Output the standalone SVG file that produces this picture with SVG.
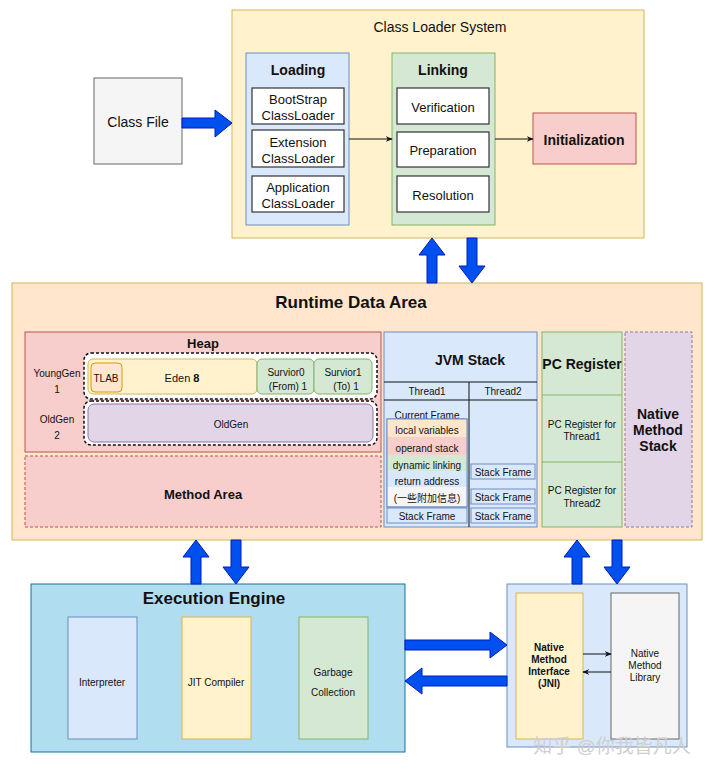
<svg xmlns="http://www.w3.org/2000/svg" width="720" height="780" viewBox="0 0 720 780">
<defs>
<style>
text{font-family:"Liberation Sans","Noto Sans CJK SC",sans-serif;fill:#111;text-anchor:middle;dominant-baseline:central}
.b{font-weight:bold}
.blk{fill:#0050ef;stroke:#001dbc;stroke-width:1}
.ln{stroke:#111;stroke-width:1;fill:none}
.wb{fill:#fff;stroke:#333;stroke-width:1.2}
.dash{stroke-dasharray:3 2}
</style>
<marker id="ah" viewBox="0 0 10 10" refX="9" refY="5" markerWidth="7" markerHeight="7" orient="auto"><path d="M0,1 L10,5 L0,9 L3,5 Z" fill="#111"/></marker>
</defs>
<rect width="720" height="780" fill="#fff"/>

<g id="class-file">
<rect x="94" y="78" width="88" height="86" fill="#f5f5f5" stroke="#666"/>
<text x="138" y="122" font-size="14">Class File</text>
</g>

<g id="class-loader-system">
<rect x="232" y="10" width="412" height="228" fill="#fff2cc" stroke="#d6b656"/>
<text x="440" y="27" font-size="14">Class Loader System</text>
</g>
<g id="loading">
<rect x="246" y="53" width="103" height="172" fill="#dae8fc" stroke="#6c8ebf"/>
<text x="298" y="70" font-size="14" class="b">Loading</text>
<rect class="wb" x="252" y="88" width="92" height="36"/>
<text x="298" y="99" font-size="13">BootStrap</text><text x="298" y="115" font-size="13">ClassLoader</text>
<rect class="wb" x="252" y="130" width="92" height="37"/>
<text x="298" y="142" font-size="13">Extension</text><text x="298" y="158" font-size="13">ClassLoader</text>
<rect class="wb" x="252" y="176" width="92" height="36"/>
<text x="298" y="187" font-size="13">Application</text><text x="298" y="203" font-size="13">ClassLoader</text>
</g>
<g id="linking">
<rect x="392" y="53" width="103" height="172" fill="#d5e8d4" stroke="#82b366"/>
<text x="443" y="70" font-size="14" class="b">Linking</text>
<rect class="wb" x="397" y="88" width="92" height="36"/>
<text x="443" y="107" font-size="13">Verification</text>
<rect class="wb" x="397" y="132" width="92" height="35"/>
<text x="443" y="150" font-size="13">Preparation</text>
<rect class="wb" x="397" y="176" width="92" height="36"/>
<text x="443" y="195" font-size="13">Resolution</text>
</g>
<g id="initialization">
<rect x="533" y="113" width="103" height="51" fill="#f8cecc" stroke="#b85450"/>
<text x="584" y="140" font-size="14" class="b">Initialization</text>
</g>

<g id="runtime-data-area">
<rect x="12" y="283" width="690" height="257" fill="#ffe6cc" stroke="#d6b656"/>
<text x="351" y="302" font-size="17" class="b">Runtime Data Area</text>
</g>
<g id="heap">
<rect x="25" y="332" width="356" height="120" fill="#f8cecc" stroke="#b85450"/>
<text x="203" y="343" font-size="13" class="b">Heap</text>
<text x="57" y="373" font-size="10">YoungGen</text><text x="57" y="389" font-size="10">1</text>
<text x="57" y="419" font-size="10">OldGen</text><text x="57" y="435" font-size="10">2</text>
<rect x="84" y="353" width="293" height="46" rx="7" fill="#fff" stroke="#111" stroke-width="1.5" class="dash"/>
<rect x="88" y="359" width="169" height="35" rx="5" fill="#fff2cc" stroke="#d6b656"/>
<rect x="91" y="363" width="31" height="29" rx="4" fill="#ffe6cc" stroke="#d79b00"/>
<text x="106" y="378" font-size="10">TLAB</text>
<text x="182" y="378" font-size="11">Eden  <tspan class="b">8</tspan></text>
<rect x="257" y="359" width="57" height="35" rx="5" fill="#d5e8d4" stroke="#82b366"/>
<text x="286" y="372" font-size="10">Survior0</text><text x="288" y="386" font-size="10">(From) 1</text>
<rect x="314" y="359" width="58" height="35" rx="5" fill="#d5e8d4" stroke="#82b366"/>
<text x="343" y="372" font-size="10">Survior1</text><text x="346" y="386" font-size="10">(To)  1</text>
<rect x="84" y="401" width="293" height="44" rx="7" fill="#fff" stroke="#111" stroke-width="1.5" class="dash"/>
<rect x="88" y="404" width="285" height="38" rx="6" fill="#e1d5e7" stroke="#9673a6"/>
<text x="231" y="424" font-size="10">OldGen</text>
</g>
<g id="method-area">
<rect x="25" y="456" width="356" height="71" fill="#f8cecc" stroke="#b85450" class="dash"/>
<text x="203" y="494" font-size="13" class="b">Method Area</text>
</g>
<g id="jvm-stack">
<rect x="384" y="332" width="153" height="195" fill="#dae8fc" stroke="#6c8ebf"/>
<text x="470" y="360" font-size="14" class="b">JVM Stack</text>
<path class="ln" d="M384,382 H537 M384,400 H537 M469,382 V527" stroke="#333"/>
<text x="427" y="391" font-size="10">Thread1</text>
<text x="503" y="391" font-size="10">Thread2</text>
<text x="427" y="415" font-size="10">Current Frame</text>
<rect x="387" y="419" width="80" height="88" fill="#fff" stroke="#6c8ebf"/>
<rect x="387" y="419" width="80" height="18" fill="#ffe6cc"/>
<rect x="387" y="437" width="80" height="18" fill="#f8cecc"/>
<rect x="387" y="455" width="80" height="16" fill="#d5e8d4"/>
<rect x="387" y="471" width="80" height="16" fill="#dae8fc"/>
<rect x="387" y="487" width="80" height="19" fill="#f5f5f5"/>
<rect x="387" y="419" width="80" height="88" fill="none" stroke="#6c8ebf"/>
<text x="427" y="430" font-size="10">local variables</text>
<text x="427" y="448" font-size="10">operand stack</text>
<text x="427" y="465" font-size="10">dynamic linking</text>
<text x="427" y="481" font-size="10">return address</text>
<text x="427" y="498" font-size="10" fill="#444">(一些附加信息)</text>
<rect x="387" y="508" width="80" height="15" fill="#dae8fc" stroke="#6c8ebf"/>
<text x="427" y="516" font-size="10">Stack Frame</text>
<rect x="471" y="464" width="64" height="15" fill="#dae8fc" stroke="#6c8ebf"/>
<text x="503" y="472" font-size="10">Stack Frame</text>
<rect x="471" y="489" width="64" height="15" fill="#dae8fc" stroke="#6c8ebf"/>
<text x="503" y="497" font-size="10">Stack Frame</text>
<rect x="471" y="508" width="64" height="15" fill="#dae8fc" stroke="#6c8ebf"/>
<text x="503" y="516" font-size="10">Stack Frame</text>
</g>
<g id="pc-register">
<rect x="542" y="332" width="80" height="195" fill="#d5e8d4" stroke="#82b366"/>
<path d="M542,395 H622 M542,462 H622" stroke="#82b366" fill="none"/>
<text x="582" y="364" font-size="14" class="b">PC Register</text>
<text x="582" y="424" font-size="10">PC Register for</text><text x="582" y="436" font-size="10">Thread1</text>
<text x="582" y="490" font-size="10">PC Register for</text><text x="582" y="503" font-size="10">Thread2</text>
</g>
<g id="native-method-stack">
<rect x="625" y="332" width="67" height="195" fill="#e1d5e7" stroke="#9673a6" class="dash"/>
<text x="658" y="414" font-size="14" class="b">Native</text>
<text x="658" y="430" font-size="14" class="b">Method</text>
<text x="658" y="446" font-size="14" class="b">Stack</text>
</g>

<g id="execution-engine">
<rect x="31" y="584" width="374" height="168" fill="#b1ddf0" stroke="#10739e"/>
<text x="214" y="598" font-size="17" class="b">Execution Engine</text>
<rect x="68" y="617" width="69" height="122" fill="#dae8fc" stroke="#6c8ebf"/>
<text x="102" y="682" font-size="10">Interpreter</text>
<rect x="182" y="617" width="69" height="122" fill="#fff2cc" stroke="#d6b656"/>
<text x="216" y="682" font-size="10">JIT Compiler</text>
<rect x="299" y="617" width="69" height="122" fill="#d5e8d4" stroke="#82b366"/>
<text x="333" y="672" font-size="10">Garbage</text><text x="333" y="692" font-size="10">Collection</text>
</g>

<g id="native-interface-group">
<rect x="507" y="584" width="180" height="163" fill="#dae8fc" stroke="#6c8ebf"/>
</g>
<g id="jni">
<rect x="516" y="593" width="67" height="146" fill="#fff2cc" stroke="#d6b656"/>
<text x="549" y="647" font-size="10" class="b">Native</text>
<text x="549" y="659" font-size="10" class="b">Method</text>
<text x="549" y="671" font-size="10" class="b">Interface</text>
<text x="549" y="683" font-size="10" class="b">(JNI)</text>
</g>
<g id="native-method-library">
<rect x="611" y="593" width="68" height="146" fill="#f5f5f5" stroke="#666"/>
<text x="645" y="653" font-size="10">Native</text>
<text x="645" y="665" font-size="10">Method</text>
<text x="645" y="677" font-size="10">Library</text>
</g>

<g id="connectors">
<line class="ln" x1="349" y1="139" x2="392" y2="139" marker-end="url(#ah)"/>
<line class="ln" x1="495" y1="139" x2="533" y2="139" marker-end="url(#ah)"/>
<line class="ln" x1="583" y1="654" x2="611" y2="654" marker-end="url(#ah)"/>
<line class="ln" x1="611" y1="672" x2="583" y2="672" marker-end="url(#ah)"/>
<polygon class="blk" points="182,118 215,118 215,110 232,123 215,137 215,128 182,128"/>
<polygon class="blk" points="427,283 427,255 419,255 432,238 445,255 437,255 437,283"/>
<polygon class="blk" points="467,238 467,266 459,266 472,283 485,266 477,266 477,238"/>
<polygon class="blk" points="191,584 191,557 183,557 196,540 209,557 201,557 201,584"/>
<polygon class="blk" points="231,540 231,567 223,567 236,584 249,567 241,567 241,540"/>
<polygon class="blk" points="572,584 572,557 564,557 577,540 590,557 582,557 582,584"/>
<polygon class="blk" points="612,540 612,567 604,567 617,584 630,567 622,567 622,540"/>
<polygon class="blk" points="405,640 490,640 490,632 507,645 490,658 490,650 405,650"/>
<polygon class="blk" points="507,676 422,676 422,668 405,681 422,694 422,686 507,686"/>
</g>

<text x="612" y="746" font-size="19" style="fill:#cfcfcf">知乎 @你我皆凡人</text>
</svg>
